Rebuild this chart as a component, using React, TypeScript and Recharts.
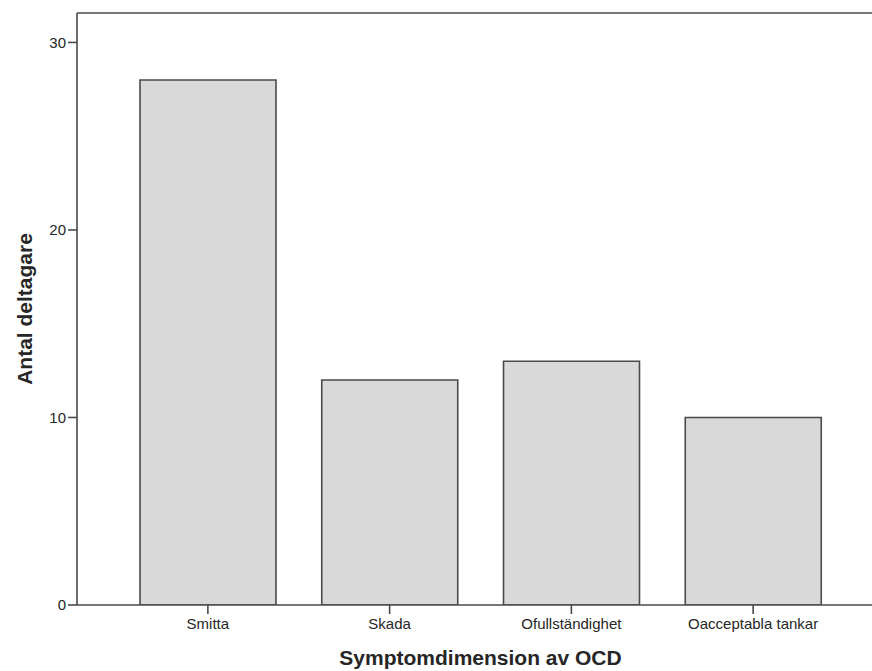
import React from 'react';
import { BarChart, Bar, XAxis, YAxis, ReferenceLine } from 'recharts';

const categories = ['Smitta', 'Skada', 'Ofullständighet', 'Oacceptabla tankar'];
const counts = [28, 12, 13, 10];
const yTicks = [0, 10, 20, 30];
const yMax = 31.57;
const xTitle = 'Symptomdimension av OCD';
const yTitle = 'Antal deltagare';

const data = categories.map((c, i) => ({ name: c, value: counts[i] }));

const FONT = '"Liberation Sans", Arial, sans-serif';
const AXIS = '#4a4a4a';
const TEXT = '#262626';

export default function App() {
  return (
    <div style={{ position: 'absolute', left: 0, top: 0, width: 872, height: 671, background: '#fff' }}>
      <BarChart
        width={872}
        height={671}
        data={data}
        margin={{ top: 13, right: 0, bottom: 0, left: 0 }}
      >
        <XAxis
          dataKey="name"
          height={66}
          padding={{ left: 40, right: 28 }}
          axisLine={{ stroke: AXIS, strokeWidth: 1.6 }}
          tickLine={{ stroke: AXIS, strokeWidth: 1.6 }}
          tickSize={9}
          tickMargin={4}
          tick={{ fill: TEXT, fontSize: 15, fontFamily: FONT }}
          interval={0}
          label={(props: any) => {
            const vb = props.viewBox || {};
            const cx = vb.x + 40 + (vb.width - 68) / 2;
            return (
              <text
                x={cx}
                y={665}
                textAnchor="middle"
                fontSize={21}
                fontWeight="bold"
                fontFamily={FONT}
                fill={TEXT}
              >
                {xTitle}
              </text>
            );
          }}
        />
        <YAxis
          width={77}
          domain={[0, yMax]}
          ticks={yTicks}
          allowDataOverflow
          axisLine={{ stroke: AXIS, strokeWidth: 1.6 }}
          tickLine={{ stroke: AXIS, strokeWidth: 1.6 }}
          tickSize={9}
          tickMargin={2}
          tick={{ fill: TEXT, fontSize: 15, fontFamily: FONT }}
          label={(props: any) => {
            const vb = props.viewBox || {};
            const cx = 24;
            const cy = vb.y + vb.height / 2;
            return (
              <text
                x={cx}
                y={cy}
                transform={`rotate(-90, ${cx}, ${cy})`}
                textAnchor="middle"
                dominantBaseline="central"
                fontSize={21}
                fontWeight="bold"
                fontFamily={FONT}
                fill={TEXT}
              >
                {yTitle}
              </text>
            );
          }}
        />
        <ReferenceLine y={yMax} stroke={AXIS} strokeWidth={1.6} />
        <Bar
          dataKey="value"
          fill="#d9d9d9"
          stroke={AXIS}
          strokeWidth={1.6}
          barSize={136}
          isAnimationActive={false}
        />
      </BarChart>
    </div>
  );
}
